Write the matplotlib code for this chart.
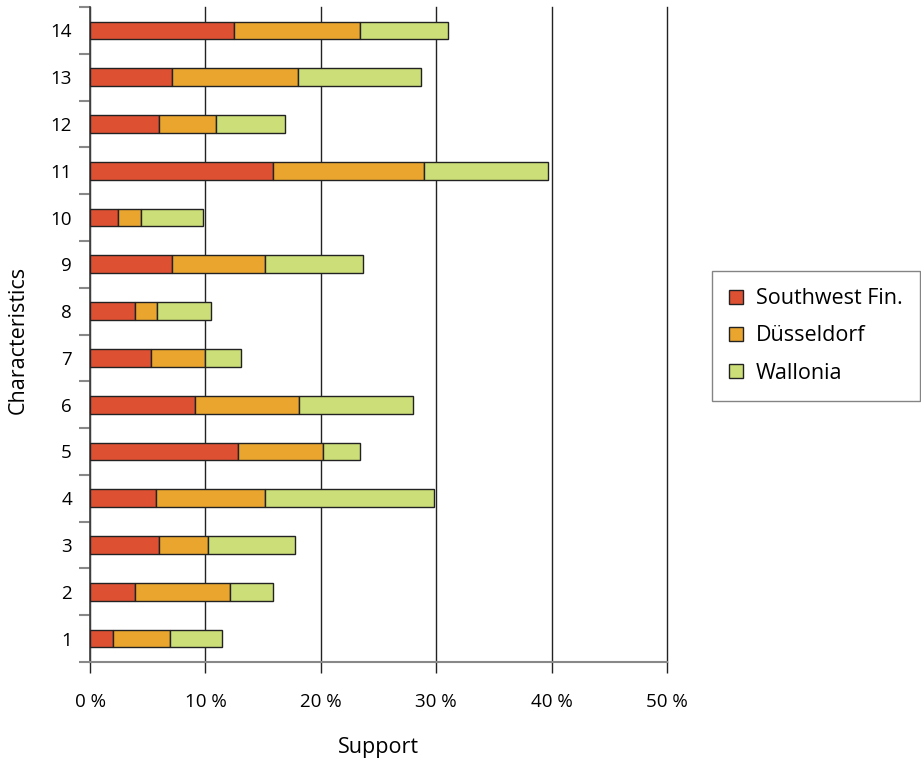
import matplotlib
matplotlib.use("Agg")
import matplotlib.pyplot as plt
import numpy as np

plt.rcParams['font.family'] = ['Open Sans', 'DejaVu Sans']

characteristics = list(range(1, 15))
southwest_fin = [2.0, 3.9, 6.0, 5.7, 12.8, 9.1, 5.3, 3.9, 7.1, 2.4, 15.9, 6.0, 7.1, 12.5]
duesseldorf = [4.9, 8.2, 4.2, 9.5, 7.4, 9.0, 4.7, 1.9, 8.1, 2.0, 13.0, 4.9, 10.9, 10.9]
wallonia = [4.5, 3.8, 7.6, 14.6, 3.2, 9.9, 3.1, 4.7, 8.5, 5.4, 10.8, 6.0, 10.7, 7.6]
series_names = ["Southwest Fin.", "Düsseldorf", "Wallonia"]
colors = ["#DE5032", "#EAA52E", "#CCDE77"]
xticks = [0, 10, 20, 30, 40, 50]
xtick_labels = [f"{v} %" for v in xticks]

fig = plt.figure(figsize=(9.21, 7.63), dpi=100)
ax = fig.add_axes([90/921, 1 - 662/763, (667 - 90)/921, (662 - 7)/763])

y = np.array(characteristics)
left = np.zeros(len(y))
for vals, name, col in zip([southwest_fin, duesseldorf, wallonia], series_names, colors):
    ax.barh(y, vals, left=left, height=0.38, color=col, edgecolor="#222222",
            linewidth=1.0, label=name, zorder=3)
    left = left + np.array(vals)

ax.set_xlim(0, 50)
ax.set_ylim(0.5, 14.5)

ax.set_xticks(xticks)
ax.set_xticklabels(xtick_labels, fontsize=13.5)
ax.tick_params(axis='x', length=8, width=1, color="#222222", pad=14)

ax.set_yticks(y)
ax.set_yticklabels([str(v) for v in characteristics], fontsize=13.5)
ax.tick_params(axis='y', which='major', length=0, pad=13)
ax.set_yticks(np.arange(0.5, 14.6, 1.0), minor=True)
ax.tick_params(axis='y', which='minor', length=8, width=1.5, color="#888888")

ax.grid(axis='x', color="#222222", linewidth=1.0, zorder=1)
for gl in ax.get_xgridlines():
    gl.set_clip_on(False)
ax.spines['top'].set_visible(False)
ax.spines['right'].set_visible(False)
ax.spines['bottom'].set_color("#888888")
ax.spines['bottom'].set_linewidth(1.5)
ax.spines['left'].set_color("#444444")
ax.spines['left'].set_linewidth(1.2)

fig.text(378/921, 1 - 748/763, "Support", fontsize=15.5, ha='center', va='center')
fig.text(18/921, 1 - 340/763, "Characteristics", fontsize=15.5, rotation=90,
         ha='center', va='center')

leg = fig.legend(loc='center left', bbox_to_anchor=(712/921, 1 - 336/763),
                 fontsize=15.5, frameon=True, fancybox=False, edgecolor="#666666",
                 handlelength=0.65, handleheight=0.65, handletextpad=0.6,
                 labelspacing=0.75, borderpad=0.8, borderaxespad=0)
leg.get_frame().set_linewidth(1.0)

fig.savefig("out.png", dpi=100)
